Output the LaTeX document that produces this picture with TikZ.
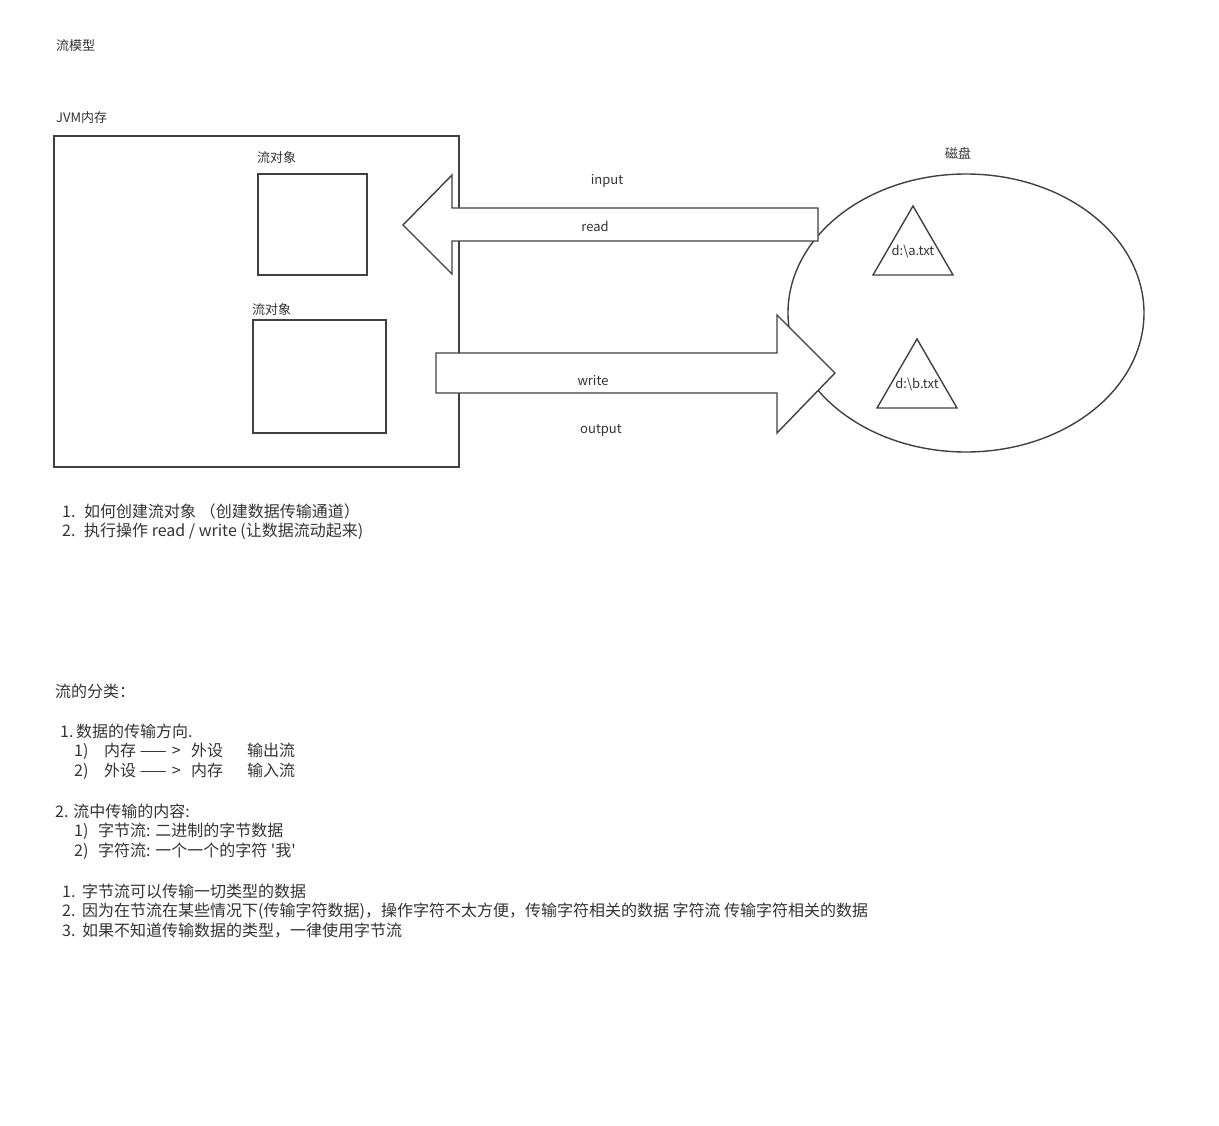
\documentclass[tikz,border=0pt]{standalone}
\usepackage{fontspec}
\setmainfont{Noto Sans CJK SC}
\setmonofont{Noto Sans CJK SC}
\definecolor{inkgray}{RGB}{64,64,64}
\definecolor{textgray}{RGB}{51,51,51}
\newcommand{\straightquote}{{\ttfamily\char39}}
\tikzset{
    shapeline/.style={draw=inkgray, line width=1.4pt},
    blockarrow/.style={shapeline, fill=white},
    smalltext/.style={text=textgray, inner sep=0pt, font=\fontsize{13}{16}\selectfont},
    bodytext/.style={text=textgray, inner sep=0pt, anchor=west, font=\fontsize{16}{20}\selectfont}
}
\begin{document}
\begin{tikzpicture}[x=1pt, y=-1pt]
    \useasboundingbox (0, 0) rectangle (1219, 1126);

        %%title
        \node[smalltext, anchor=west] (title) at (56, 46){流模型};

        %%jvm side
        \node[smalltext, anchor=west] (jvmlabel) at (56, 118){JVM内存};
        \draw[shapeline] (54, 136) rectangle (459, 467);
            \node[smalltext, anchor=west] (objlabelA) at (257, 158){流对象};
            \draw[shapeline] (258, 174) rectangle (367, 275);
            \node[smalltext, anchor=west] (objlabelB) at (252, 310){流对象};
            \draw[shapeline] (253, 320) rectangle (386, 433);

        %%disk side
        \node[smalltext] (disklabel) at (958, 153){磁盘};
        \draw[shapeline] (966, 313) ellipse [x radius=178, y radius=139];
            \draw[shapeline] (913, 206) -- (953, 275) -- (873, 275) -- cycle;
                \node[smalltext] (fileA) at (913, 251){d:\textbackslash a.txt};
            \draw[shapeline] (917, 339) -- (957, 408) -- (877, 408) -- cycle;
                \node[smalltext] (fileB) at (917, 384){d:\textbackslash b.txt};

        %%read arrow
        \draw[blockarrow] (818, 208) -- (452, 208) -- (452, 175) -- (403, 225)
            -- (452, 274) -- (452, 241) -- (818, 241) -- cycle;
            \node[smalltext] (inputlabel) at (607, 181){input};
            \node[smalltext] (readlabel) at (595, 226){read};

        %%write arrow
        \draw[blockarrow] (436, 353) -- (777, 353) -- (777, 315) -- (835, 373)
            -- (777, 433) -- (777, 393) -- (436, 393) -- cycle;
            \node[smalltext] (writelabel) at (593, 381){write};
            \node[smalltext] (outputlabel) at (601, 430){output};

        %%steps
        \node[bodytext] (stepA) at (62, 511){\makebox[22pt][l]{1.}如何创建流对象 （创建数据传输通道）};
        \node[bodytext] (stepB) at (62, 531){\makebox[22pt][l]{2.}执行操作 read / write (让数据流动起来)};

        %%kinds
        \node[bodytext] (kinds) at (55, 691){流的分类：};
        \node[bodytext] (dirA) at (60, 731){\makebox[16pt][l]{1.}数据的传输方向.};
            \node[bodytext] (dirAa) at (74, 751){\makebox[30pt][l]{1)}\makebox[87pt][l]{内存 ——\,\,>}\makebox[56pt][l]{外设}输出流};
            \node[bodytext] (dirAb) at (74, 771){\makebox[30pt][l]{2)}\makebox[87pt][l]{外设 ——\,\,>}\makebox[56pt][l]{内存}输入流};
        \node[bodytext] (dirB) at (55, 811){2. 流中传输的内容:};
            \node[bodytext] (dirBa) at (74, 831){\makebox[24pt][l]{1)}字节流:  二进制的字节数据};
            \node[bodytext] (dirBb) at (74, 851){\makebox[24pt][l]{2)}字符流:  一个一个的字符 \straightquote 我\straightquote};

        %%notes
        \node[bodytext] (noteA) at (62, 891){\makebox[20pt][l]{1.}字节流可以传输一切类型的数据};
        \node[bodytext] (noteB) at (62, 911){\makebox[20pt][l]{2.}因为在节流在某些情况下(传输字符数据)，操作字符不太方便，传输字符相关的数据 字符流 传输字符相关的数据};
        \node[bodytext] (noteC) at (62, 931){\makebox[20pt][l]{3.}如果不知道传输数据的类型，一律使用字节流};
\end{tikzpicture}
\end{document}
